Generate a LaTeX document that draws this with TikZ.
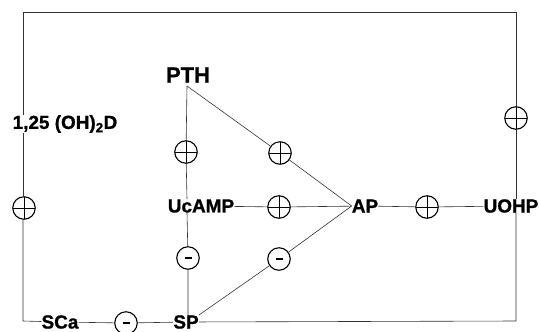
\documentclass[tikz,border=0pt]{standalone}
\usepackage{fontspec}
\setmainfont{Liberation Sans}[BoldFeatures={FakeBold=1.0}]
\begin{document}
\begin{tikzpicture}[x=1bp,y=-1bp,
  lab/.style={inner sep=0pt,font=\fontsize{19}{21}\selectfont\bfseries},
  pl/.style={circle,draw,line width=1.1bp,minimum size=22.5bp,inner sep=0pt,
    path picture={\draw[line width=1bp] (path picture bounding box.north) -- (path picture bounding box.south)
      (path picture bounding box.west) -- (path picture bounding box.east);}},
  mi/.style={circle,draw,line width=1.1bp,minimum size=22.5bp,inner sep=0pt,
    path picture={\draw[line width=1.4bp] ([xshift=-3.5bp]path picture bounding box.center) -- ([xshift=3.5bp]path picture bounding box.center);}},
  conn/.style={draw,line width=0.6bp,black!80}]
\useasboundingbox (0,0) rectangle (539,331);
% labels
\node[lab,font=\fontsize{22}{24}\selectfont\bfseries] (pth) at (188,75) {PTH};
\node[lab] (d) at (65,124) {1,25 (OH)\textsubscript{2}D};
\node[lab] (ucamp) at (201,206) {UcAMP};
\node[lab] (ap) at (365,206) {AP};
\node[lab] (uohp) at (511,206) {UOHP};
\node[lab] (sca) at (60,322) {SCa};
\node[lab] (sp) at (186,322) {SP};
% signs
\node[pl] (p1) at (186,152) {};
\node[pl] (p2) at (280,153) {};
\node[pl] (p3) at (279,207) {};
\node[pl] (p4) at (427,207) {};
\node[pl] (p5) at (516,118) {};
\node[pl] (p6) at (24,208) {};
\node[mi] (m1) at (188,258) {};
\node[mi] (m2) at (279,259) {};
\node[mi] (m3) at (126,323) {};
% corners
\coordinate (tl) at (23,12);
\coordinate (tr) at (516,12);
\coordinate (br) at (516,321);
\coordinate (bl) at (23,321);
\coordinate (apex) at (187,86);
% connectors
\path[conn] (tl |- d.north) -- (tl) -- (tr) -- (p5);
\path[conn] (p5) -- (p5 |- uohp.north);
\path[conn] (p5 |- uohp.south) -- (br) -- (sp);
\path[conn] (sp) -- (m3) -- (sca) -- (bl) -- (p6.south -| bl);
\path[conn] (p6.north -| bl) -- (tl |- d.south);
\path[conn] (apex) -- (p1) -- (ucamp.north -| apex);
\path[conn] (ucamp.south -| apex) -- (m1) -- (sp.north -| m1);
\path[conn] (apex) -- (p2) -- (ap.west);
\path[conn] (ucamp) -- (p3) -- (ap);
\path[conn] (ap) -- (p4) -- (uohp);
\path[conn] (sp.north east) -- (m2) -- (ap.west);
\end{tikzpicture}
\end{document}
